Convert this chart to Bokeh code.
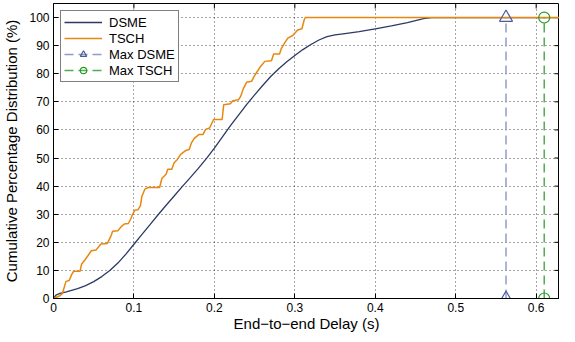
import math
from bokeh.plotting import figure
from bokeh.models import FixedTicker, Legend, LegendItem, Range1d
from bokeh.embed import file_html
from bokeh.resources import INLINE

# ---- data ----
dsme_x = [0, 0.003, 0.008, 0.016, 0.03, 0.04, 0.05, 0.06, 0.07, 0.08, 0.09, 0.10,
          0.11, 0.12, 0.13, 0.14, 0.15, 0.16, 0.17, 0.18, 0.19, 0.20, 0.21, 0.22,
          0.23, 0.24, 0.25, 0.26, 0.27, 0.28, 0.29, 0.30, 0.31, 0.32, 0.33, 0.34,
          0.35, 0.36, 0.38, 0.40, 0.42, 0.44, 0.46, 0.47, 0.64]
dsme_y = [0, 1.2, 1.8, 2.4, 3.5, 4.6, 6.0, 7.8, 10.0, 12.6, 15.8, 19.3,
          22.8, 26.3, 29.8, 33.2, 36.5, 39.8, 43.0, 46.3, 49.8, 53.5, 57.5, 61.5,
          65.3, 69.0, 72.5, 75.8, 79.0, 81.8, 84.3, 86.5, 88.6, 90.4, 92.0, 93.2,
          93.8, 94.2, 95.0, 96.0, 97.0, 98.2, 99.6, 100, 100]

tsch_x = [0, 0.008, 0.011, 0.0155, 0.0196, 0.0225, 0.025, 0.033, 0.035, 0.039,
          0.043, 0.047, 0.053, 0.059, 0.067, 0.0715, 0.0735, 0.080, 0.084, 0.088,
          0.093, 0.096, 0.098, 0.101, 0.105, 0.108, 0.110, 0.1136, 0.1176, 0.1319,
          0.1348, 0.140, 0.142, 0.147, 0.150, 0.154, 0.158, 0.1646, 0.1687, 0.1715,
          0.175, 0.181, 0.186, 0.189, 0.194, 0.199, 0.2096, 0.2116, 0.2198, 0.2230,
          0.2300, 0.2328, 0.236, 0.2402, 0.2463, 0.2492, 0.2533, 0.2574, 0.2627,
          0.2709, 0.2737, 0.2810, 0.2831, 0.2872, 0.2913, 0.2974, 0.3035, 0.3088,
          0.3117, 0.313, 0.64]
tsch_y = [0, 1.0, 1.7, 6.1, 6.4, 8.5, 9.7, 9.7, 12.3, 13.7,
          15.3, 17.0, 17.3, 19.4, 19.6, 22.3, 23.9, 24.1, 25.5, 26.5,
          26.7, 28.3, 29.8, 31.4, 31.6, 33.0, 36.5, 38.9, 39.5, 39.5,
          42.8, 44.2, 46.0, 46.0, 48.3, 49.5, 51.3, 52.7, 53.0, 55.4,
          57.0, 58.4, 58.4, 60.2, 60.7, 63.7, 63.7, 69.0, 69.3, 70.4,
          70.7, 72.0, 74.7, 77.0, 77.3, 79.0, 80.8, 82.6, 84.4,
          84.6, 87.0, 87.0, 88.9, 90.9, 92.7, 93.6, 95.6, 96.0,
          99.2, 100, 100]

max_dsme_delay = 0.5625
max_tsch_delay = 0.61
cdf_span = [0, 100]

x_ticks = [0, 0.1, 0.2, 0.3, 0.4, 0.5, 0.6]
x_tick_labels = ["0", "0.1", "0.2", "0.3", "0.4", "0.5", "0.6"]
y_ticks = [0, 10, 20, 30, 40, 50, 60, 70, 80, 90, 100]

FONT = "Liberation Sans"
DSME_C = "#2c3a64"
TSCH_C = "#e8870f"
MAXD_LINE = "#8e9dc6"
MAXD_MARK = "#4a5c9c"
MAXT_LINE = "#4fae4f"
MAXT_MARK = "#2a9a2a"

X_END = 0.629
Y_END = 105

p = figure(width=559, height=334, output_backend="svg", toolbar_location=None,
           x_range=Range1d(0, X_END), y_range=Range1d(0, Y_END),
           min_border_left=46, min_border_right=0, min_border_top=3,
           min_border_bottom=36)
p.outline_line_color = "black"
p.outline_line_width = 1
p.background_fill_color = "white"
p.border_fill_color = "white"

xt = FixedTicker(ticks=x_ticks)
yt = FixedTicker(ticks=y_ticks)
p.xaxis.ticker = xt
p.yaxis.ticker = yt
p.xaxis.major_label_overrides = dict(zip(x_ticks, x_tick_labels))

for ax in (p.xaxis[0], p.yaxis[0]):
    ax.major_tick_in = 5
    ax.major_tick_out = 0
    ax.minor_tick_line_color = None
    ax.axis_line_color = "black"
    ax.axis_line_width = 1
    ax.major_tick_line_color = "black"
    ax.major_label_text_font = FONT
    ax.major_label_text_font_size = "12px"
    ax.major_label_text_color = "black"
    ax.axis_label_text_font = FONT
    ax.axis_label_text_font_size = "15px"
    ax.axis_label_text_font_style = "normal"
    ax.axis_label_text_color = "black"

p.xaxis.axis_label = "End\u2212to\u2212end Delay (s)"
p.yaxis.axis_label = "Cumulative Percentage Distribution (%)"
p.xaxis.major_label_standoff = 4
p.xaxis.axis_label_standoff = 0
p.yaxis.major_label_standoff = 4
p.yaxis.axis_label_standoff = 6

for g in (p.xgrid[0], p.ygrid[0]):
    g.grid_line_color = "#222222"
    g.grid_line_dash = "1 3"
    g.grid_line_width = 1
    g.grid_line_alpha = 0.8
p.xgrid.ticker = xt
p.ygrid.ticker = yt

# inward ticks on the top and right edges of the box (half clipped by the frame)
p.scatter(x_ticks, [Y_END] * len(x_ticks), marker="dash", angle=math.pi / 2,
          size=10, line_color="black", line_width=1)
p.scatter([X_END] * len(y_ticks), y_ticks, marker="dash",
          size=10, line_color="black", line_width=1)

r_dsme = p.line(dsme_x, dsme_y, line_color=DSME_C, line_width=1.3)
r_tsch = p.line(tsch_x, tsch_y, line_color=TSCH_C, line_width=1.5)

r_md_line = p.line([max_dsme_delay, max_dsme_delay], cdf_span, line_color=MAXD_LINE,
                   line_width=1.5, line_dash="9 5")
r_md_mark = p.scatter([max_dsme_delay, max_dsme_delay], cdf_span, marker="triangle",
                      size=13, fill_color=None, line_color=MAXD_MARK, line_width=1.2)
r_mt_line = p.line([max_tsch_delay, max_tsch_delay], cdf_span, line_color=MAXT_LINE,
                   line_width=1.5, line_dash="9 5")
r_mt_mark = p.scatter([max_tsch_delay, max_tsch_delay], cdf_span, marker="circle",
                      size=11, fill_color=None, line_color=MAXT_MARK, line_width=1.2)

legend = Legend(items=[
    LegendItem(label="DSME", renderers=[r_dsme]),
    LegendItem(label="TSCH", renderers=[r_tsch]),
    LegendItem(label="Max DSME", renderers=[r_md_line, r_md_mark]),
    LegendItem(label="Max TSCH", renderers=[r_mt_line, r_mt_mark]),
], location="top_left")
legend.label_text_font = FONT
legend.label_text_font_size = "13px"
legend.label_text_color = "black"
legend.label_height = 16
legend.glyph_height = 16
legend.glyph_width = 38
legend.spacing = 0
legend.padding = 3
legend.margin = 7
legend.label_standoff = 7
legend.border_line_color = "black"
legend.border_line_width = 1
legend.background_fill_color = "white"
legend.background_fill_alpha = 1
p.add_layout(legend, "center")

with open("out.html", "w") as f:
    f.write(file_html(p, INLINE))
